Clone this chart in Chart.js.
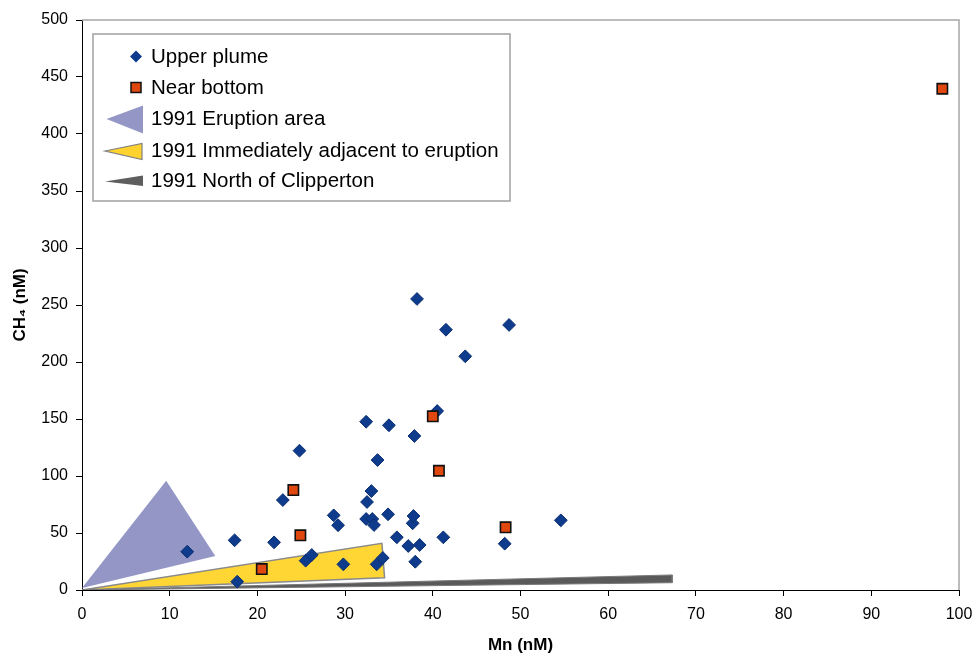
<!DOCTYPE html>
<html>
<head>
<meta charset="utf-8">
<script src="https://cdn.jsdelivr.net/npm/chart.js@4.4.1/dist/chart.umd.min.js"></script>
<style>
  html, body { margin: 0; padding: 0; background: #fff; }
</style>
</head>
<body>
<canvas id="chart" width="974" height="656"></canvas>
<script>
// Mn (nM) vs CH4 (nM)
const upperMn  = [12.0, 17.4, 17.7, 21.9, 22.9, 24.8, 25.5, 26.2, 28.7, 29.2, 29.8, 32.4, 32.5, 32.4, 33.0, 33.1, 33.3, 33.6, 33.7,
                  34.3, 34.9, 35.0, 35.9, 37.2, 37.7, 37.8, 37.9, 38.2, 38.0, 38.5, 40.5, 41.2, 41.5, 43.7, 48.2, 48.7, 54.6];
const upperCH4 = [33.6, 43.6, 7.3, 41.8, 78.9, 122.2, 25.7, 30.7, 65.5, 56.8, 22.5, 147.6, 77.2, 62.3, 86.8, 62.3, 57.0, 22.5, 114.0,
                  28.1, 66.4, 144.5, 46.2, 38.6, 58.5, 64.9, 135.1, 255.3, 24.8, 39.5, 157.0, 46.2, 228.3, 205.0, 40.6, 232.5, 61.1];

const bottomMn  = [20.5, 24.1, 24.9, 40.0, 40.7, 48.3, 98.1];
const bottomCH4 = [18.4, 87.7, 48.0, 152.4, 104.6, 55.0, 439.7];

// 1991 fields, drawn as closed shapes
const eruptionMn  = [0, 9.6, 15.2, 0];
const eruptionCH4 = [1.8, 95.9, 29.8, 1.8];
const adjacentMn  = [0, 34.2, 34.5, 0];
const adjacentCH4 = [0, 41.0, 10.8, 0];
const northMn  = [0, 67.3, 67.3, 0];
const northCH4 = [0, 13.2, 6.4, 0];

const xTickValues = [0, 10, 20, 30, 40, 50, 60, 70, 80, 90, 100];
const yTickValues = [0, 50, 100, 150, 200, 250, 300, 350, 400, 450, 500];

const legendLabels = ['Upper plume', 'Near bottom', '1991 Eruption area',
                      '1991 Immediately adjacent to eruption', '1991 North of Clipperton'];

const pts = (xs, ys) => xs.map((x, i) => ({ x: x, y: ys[i] }));
const FONT = '"Liberation Sans", Arial, sans-serif';

const frame = {
  id: 'frame',
  afterDraw(chart) {
    const { ctx, chartArea: a } = chart;
    ctx.save();
    // plot area border, top and right
    ctx.strokeStyle = '#a6a6a6';
    ctx.lineWidth = 1.5;
    ctx.beginPath();
    ctx.moveTo(a.left, a.top);
    ctx.lineTo(a.right, a.top);
    ctx.lineTo(a.right, a.bottom);
    ctx.stroke();

    // legend
    ctx.fillStyle = '#fff';
    ctx.fillRect(93, 34, 417, 167);
    ctx.strokeStyle = '#a0a0a0';
    ctx.lineWidth = 1.5;
    ctx.strokeRect(93, 34, 417, 167);

    // diamond
    ctx.fillStyle = '#0f3b8c';
    ctx.beginPath();
    ctx.moveTo(130, 56.5); ctx.lineTo(136, 50.5); ctx.lineTo(142, 56.5); ctx.lineTo(136, 62.5);
    ctx.closePath(); ctx.fill();
    // square
    ctx.fillStyle = '#e0480f';
    ctx.fillRect(131, 82.5, 10, 10);
    ctx.strokeStyle = '#111'; ctx.lineWidth = 1.5;
    ctx.strokeRect(131, 82.5, 10, 10);
    // eruption wedge
    ctx.fillStyle = '#9497c6';
    ctx.beginPath();
    ctx.moveTo(106.5, 119); ctx.lineTo(143, 105.5); ctx.lineTo(143, 133.5);
    ctx.closePath(); ctx.fill();
    // adjacent wedge
    ctx.fillStyle = '#ffd22e';
    ctx.strokeStyle = '#808080'; ctx.lineWidth = 1.2;
    ctx.beginPath();
    ctx.moveTo(105, 151); ctx.lineTo(142, 143.5); ctx.lineTo(142, 159.5);
    ctx.closePath(); ctx.fill(); ctx.stroke();
    // north wedge
    ctx.fillStyle = '#5e5e5e';
    ctx.beginPath();
    ctx.moveTo(105, 181.5); ctx.lineTo(143, 175.5); ctx.lineTo(143, 186);
    ctx.closePath(); ctx.fill();

    ctx.fillStyle = '#000';
    ctx.font = '20.5px ' + FONT;
    ctx.textBaseline = 'alphabetic';
    const ys = [62.5, 93.5, 125, 156.5, 187];
    legendLabels.forEach((t, i) => ctx.fillText(t, 151, ys[i]));
    ctx.restore();
  }
};

new Chart(document.getElementById('chart'), {
  type: 'scatter',
  data: {
    datasets: [
      {
        label: legendLabels[0], data: pts(upperMn, upperCH4), order: 1,
        pointStyle: 'rectRot', pointRadius: 6.4, pointHoverRadius: 6.4,
        backgroundColor: '#0f3b8c', borderColor: '#0a2e70', borderWidth: 1
      },
      {
        label: legendLabels[1], data: pts(bottomMn, bottomCH4), order: 0,
        pointStyle: 'rect', pointRadius: 7.3, pointHoverRadius: 7.3,
        backgroundColor: '#e0480f', borderColor: '#111', borderWidth: 1.6
      },
      {
        label: legendLabels[2], data: pts(eruptionMn, eruptionCH4), order: 2,
        showLine: true, fill: 'shape', pointRadius: 0, borderWidth: 0, tension: 0,
        backgroundColor: '#9497c6', borderColor: 'rgba(0,0,0,0)'
      },
      {
        label: legendLabels[4], data: pts(northMn, northCH4), order: 3,
        showLine: true, fill: 'shape', pointRadius: 0, borderWidth: 1, tension: 0,
        backgroundColor: '#5a5a5a', borderColor: '#7a7a7a'
      },
      {
        label: legendLabels[3], data: pts(adjacentMn, adjacentCH4), order: 4,
        showLine: true, fill: 'shape', pointRadius: 0, borderWidth: 1.5, tension: 0,
        backgroundColor: '#ffd633', borderColor: '#8a8a8a'
      }
    ]
  },
  options: {
    responsive: false,
    animation: false,
    devicePixelRatio: 1,
    layout: { padding: { top: 20, right: 15, left: 0, bottom: 0 } },
    plugins: { legend: { display: false }, tooltip: { enabled: false } },
    scales: {
      x: {
        type: 'linear', min: 0, max: 100,
        afterBuildTicks: (s) => { s.ticks = xTickValues.map((v) => ({ value: v })); },
        afterFit: (s) => { s.height = 66; s.paddingRight = 0; s.paddingLeft = 0; },
        ticks: { color: '#000', font: { family: FONT, size: 16 }, padding: 9, maxRotation: 0 },
        grid: { display: true, drawOnChartArea: false, drawTicks: true, tickLength: 6, color: '#000' },
        border: { display: true, color: '#000', width: 1 },
        title: { display: true, text: 'Mn (nM)', color: '#000',
                 font: { family: FONT, size: 17, weight: 'bold' }, padding: { top: 0, bottom: 0 } }
      },
      y: {
        type: 'linear', min: 0, max: 500,
        afterBuildTicks: (s) => { s.ticks = yTickValues.map((v) => ({ value: v })); },
        afterFit: (s) => { s.width = 82; },
        ticks: { color: '#000', font: { family: FONT, size: 16 }, padding: 8 },
        grid: { display: true, drawOnChartArea: false, drawTicks: true, tickLength: 6, color: '#000' },
        border: { display: true, color: '#000', width: 1 },
        title: { display: true, text: 'CH₄ (nM)', color: '#000',
                 font: { family: FONT, size: 17, weight: 'bold' }, padding: { top: 10, bottom: 0 } }
      }
    }
  },
  plugins: [frame]
});
</script>
</body>
</html>
